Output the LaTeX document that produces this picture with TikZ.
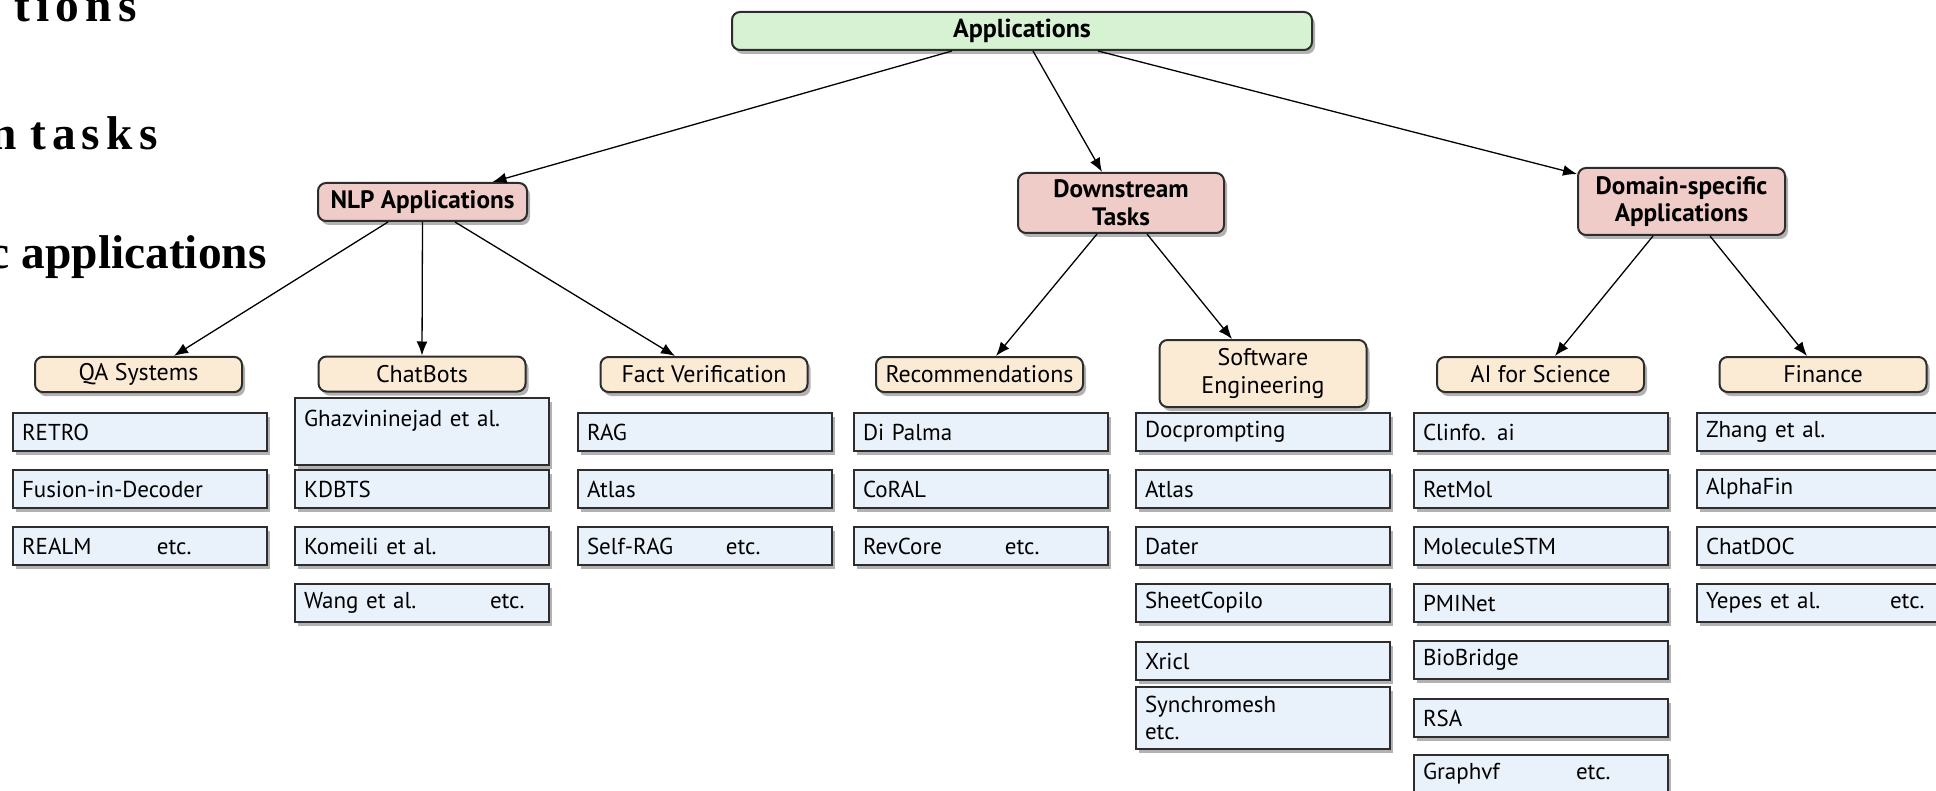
\documentclass[tikz,border=0pt]{standalone}
\usepackage{fontspec}
\setmainfont{PT Sans}
\newfontfamily\headfont{Liberation Serif}
\usetikzlibrary{arrows.meta,shadows,calc}
\definecolor{rootgreen}{RGB}{214,242,210}
\definecolor{taskpink}{RGB}{240,204,200}
\definecolor{areatan}{RGB}{251,234,212}
\definecolor{paperblue}{RGB}{233,241,251}
\definecolor{edgegray}{RGB}{45,45,45}
% leaf text with a trailing "etc." at a fixed offset
\newcommand{\etcafter}[2]{\makebox[#1][l]{#2}etc.}

\begin{document}
\begin{tikzpicture}[x=0.5pt,y=-0.5pt,
    boxshadow/.style={drop shadow={shadow xshift=1.5pt,shadow yshift=-2pt,fill=black!60,opacity=0.5}},
    rootbox/.style={draw=edgegray,line width=1pt,fill=rootgreen,rounded corners=4pt,boxshadow,
        minimum width=290pt,minimum height=19pt,font=\bfseries\fontsize{13}{15}\selectfont},
    taskbox/.style={draw=edgegray,line width=1pt,fill=taskpink,rounded corners=4pt,boxshadow,
        align=center,inner xsep=2pt,font=\bfseries\fontsize{12.6}{13.8}\selectfont},
    areabox/.style={draw=edgegray,line width=1pt,fill=areatan,rounded corners=4pt,boxshadow,
        align=center,minimum width=103.5pt,minimum height=17.5pt,font=\fontsize{12}{14}\selectfont},
    paper/.style={draw=edgegray,line width=1pt,fill=paperblue,boxshadow,anchor=north west,
        minimum width=127pt,minimum height=19pt,text width=118pt,inner xsep=4pt,align=left,
        font=\fontsize{11.5}{13.5}\selectfont},
    link/.style={-{Latex[length=7pt,width=5.5pt]},line width=0.65pt},
    bigtext/.style={inner sep=0pt,font=\headfont\bfseries\fontsize{23.7}{28}\selectfont},
    spacedtext/.style={inner sep=0pt,font=\headfont\bfseries\fontsize{23.7}{28}\selectfont\addfontfeature{LetterSpace=13}}]

    % page
    \useasboundingbox (0,0) rectangle (1936,791);
    \clip (0,0) rectangle (1936,791);

    % headings along the left edge
    \draw (137,22) node[spacedtext,anchor=base east] (headA) {tions};
    \draw (158,150) node[spacedtext,anchor=base east] (headB) {n\kern-2.5pt\ tasks};
    \draw (267,268) node[bigtext,anchor=base east] (headC) {c applications};

    % root and main branches
    \draw (1022,31) node[rootbox] (root) {Applications};
    \draw (422.5,202) node[taskbox,minimum width=104.5pt,minimum height=19pt] (nlp) {NLP Applications};
    \draw (1121,203) node[taskbox,minimum width=103pt,minimum height=30pt] (down) {Downstream\\Tasks};
    \draw (1681.5,201.5) node[taskbox,minimum width=103.5pt,minimum height=33.5pt] (domain) {Domain-specific\\Applications};

    % areas
    \draw (138.5,374.5) node[areabox] (qa) {QA Systems};
    \draw (422,374) node[areabox] (chat) {ChatBots};
    \draw (704,374.5) node[areabox] (fact) {Fact Verification};
    \draw (979.5,374.5) node[areabox] (rec) {Recommendations};
    \draw (1263,373.5) node[areabox,minimum height=33.5pt] (se) {Software\\Engineering};
    \draw (1540.5,374.5) node[areabox] (ai) {AI for Science};
    \draw (1823,374.5) node[areabox] (fin) {Finance};

    % QA systems
    \draw (12,412) node[paper] (qa1) {RETRO};
    \draw (12,469) node[paper] (qa2) {Fusion-in-Decoder};
    \draw (12,526) node[paper] (qa3) {\etcafter{67.5pt}{REALM}};

    % chatbots
    \draw (294,397) node[paper,minimum height=33.5pt] (chat1) {Ghazvininejad et al.\\\mbox{}};
    \draw (294,469) node[paper] (chat2) {KDBTS};
    \draw (294,526) node[paper] (chat3) {Komeili et al.};
    \draw (294,583) node[paper] (chat4) {\etcafter{93pt}{Wang et al.}};

    % fact verification
    \draw (577,412) node[paper] (fact1) {RAG};
    \draw (577,469) node[paper] (fact2) {Atlas};
    \draw (577,526) node[paper] (fact3) {\etcafter{69.5pt}{Self-RAG}};

    % recommendations
    \draw (853,412) node[paper] (rec1) {Di Palma};
    \draw (853,469) node[paper] (rec2) {CoRAL};
    \draw (853,526) node[paper] (rec3) {\etcafter{71pt}{RevCore}};

    % software engineering
    \draw (1135,412) node[paper] (se1) {Docprompting};
    \draw (1135,469) node[paper] (se2) {Atlas};
    \draw (1135,526) node[paper] (se3) {Dater};
    \draw (1135,583) node[paper] (se4) {SheetCopilo};
    \draw (1135,641) node[paper] (se5) {Xricl};
    \draw (1135,686) node[paper,minimum height=31pt] (se6) {Synchromesh\\etc.};

    % ai for science
    \draw (1413,412) node[paper] (ai1) {Clinfo. ai};
    \draw (1413,469) node[paper] (ai2) {RetMol};
    \draw (1413,526) node[paper] (ai3) {MoleculeSTM};
    \draw (1413,583) node[paper] (ai4) {PMINet};
    \draw (1413,640) node[paper] (ai5) {BioBridge};
    \draw (1413,698) node[paper] (ai6) {RSA};
    \draw (1413,754) node[paper] (ai7) {\etcafter{76.5pt}{Graphvf}};

    % finance
    \draw (1696,412) node[paper] (fin1) {Zhang et al.};
    \draw (1696,469) node[paper] (fin2) {AlphaFin};
    \draw (1696,526) node[paper] (fin3) {ChatDOC};
    \draw (1696,583) node[paper] (fin4) {\etcafter{92pt}{Yepes et al.}};

    % arrows from the root
    \draw[link] ($(root.south)+(-70,0)$) -- ($(nlp.north)+(70,0)$);
    \draw[link] ($(root.south)+(11,0)$) -- ($(down.north)+(-19,0)$);
    \draw[link] ($(root.south)+(76,0)$) -- ($(domain.north west)+(0,7)$);
    % arrows to the areas
    \draw[link] ($(nlp.south)+(-34.5,0)$) -- ($(qa.north)+(35.5,0)$);
    \draw[link] (nlp.south) -- (chat.north);
    \draw[link] ($(nlp.south)+(32.5,0)$) -- ($(fact.north)+(-29,0)$);
    \draw[link] ($(down.south)+(-24,0)$) -- ($(rec.north)+(16.5,0)$);
    \draw[link] ($(down.south)+(26,0)$) -- ($(se.north)+(-31,0)$);
    \draw[link] ($(domain.south)+(-28.5,0)$) -- ($(ai.north)+(14.5,0)$);
    \draw[link] ($(domain.south)+(28.5,0)$) -- ($(fin.north)+(-16,0)$);

\end{tikzpicture}
\end{document}
